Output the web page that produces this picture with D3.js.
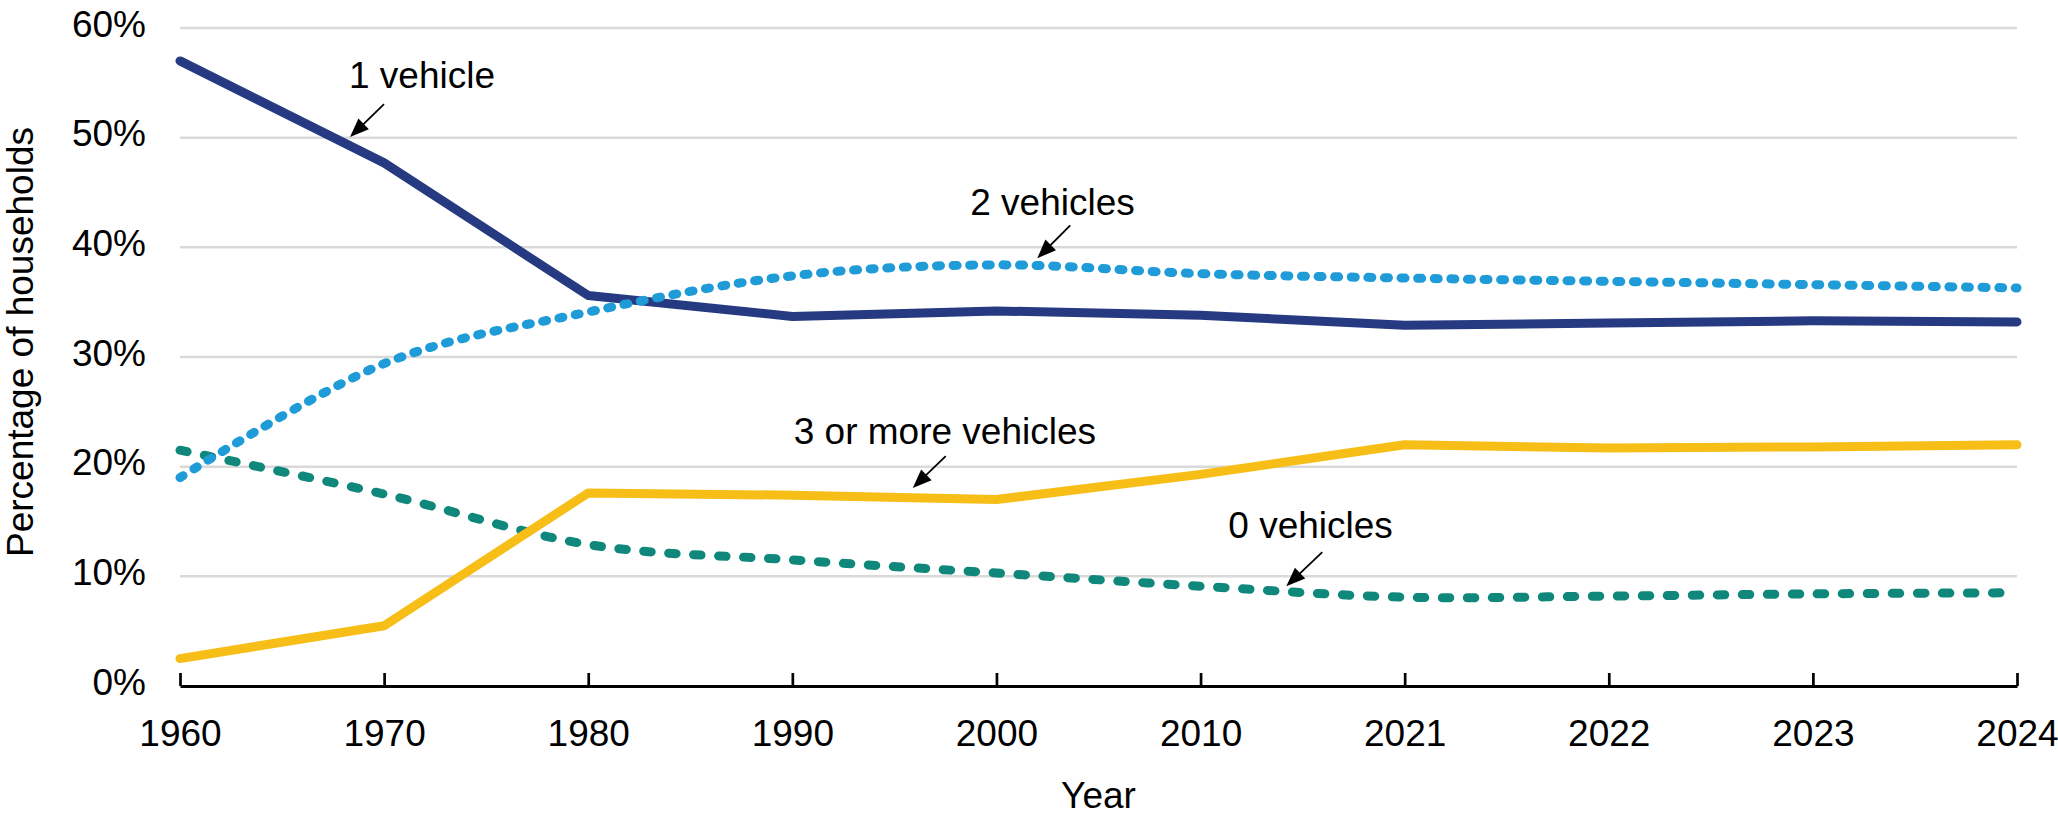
<!DOCTYPE html>
<html>
<head>
<meta charset="utf-8">
<script src="https://cdn.jsdelivr.net/npm/d3@7"></script>
<style>
  html, body { margin: 0; padding: 0; background: #fff; }
  svg { display: block; font-family: "Liberation Sans", Arial, sans-serif; }
</style>
</head>
<body>
<svg id="chart" width="2058" height="825"></svg>
<script>
// ---- Data ----
const years = ["1960", "1970", "1980", "1990", "2000", "2010", "2021", "2022", "2023", "2024"];
const zeroVehicles  = [21.5, 17.5, 12.9, 11.5, 10.3, 9.1, 8.1, 8.2, 8.4, 8.5];
const oneVehicle    = [57.0, 47.7, 35.6, 33.7, 34.2, 33.8, 32.9, 33.1, 33.3, 33.2];
const twoVehicles   = [19.0, 29.4, 34.1, 37.4, 38.4, 37.6, 37.2, 36.9, 36.6, 36.3];
const threePlus     = [2.5, 5.5, 17.6, 17.4, 17.0, 19.3, 22.0, 21.7, 21.8, 22.0];
const yTicks = [0, 10, 20, 30, 40, 50, 60];
const seriesNames = ["0 vehicles", "1 vehicle", "2 vehicles", "3 or more vehicles"];

(function () {
// ---- Layout ----
const plotLeft = 180, plotRight = 2017, plotTop = 28, plotBottom = 686;
const FS = 37;

const svg = d3.select("#chart");
const x = d3.scalePoint().domain(years).range([plotLeft, plotRight]);
const xi = d3.scaleLinear().domain([0, years.length - 1]).range([plotLeft, plotRight]);
const y = d3.scaleLinear().domain([0, 60]).range([plotBottom, plotTop]);

// gridlines
svg.append("g").selectAll("line")
  .data(yTicks.filter(d => d > 0))
  .join("line")
  .attr("x1", plotLeft).attr("x2", plotRight)
  .attr("y1", d => y(d)).attr("y2", d => y(d))
  .attr("stroke", "#d9d9d9").attr("stroke-width", 2.5);

// y axis labels
const yAxis = svg.append("g")
  .attr("transform", `translate(${plotLeft},0)`)
  .call(d3.axisLeft(y).tickValues(yTicks).tickSize(0).tickPadding(34).tickFormat(d => d + "%"));
yAxis.select(".domain").remove();
yAxis.selectAll("text").attr("font-size", FS).attr("fill", "#000").attr("dy", "0.22em")
  .attr("font-family", "Liberation Sans, Arial, sans-serif");

// series
const series = [
  { name: seriesNames[0], values: zeroVehicles, color: "#0f887b", dash: "7.5,17.5", curve: d3.curveCardinal.tension(0) },
  { name: seriesNames[1], values: oneVehicle,   color: "#263a82", dash: null,       curve: d3.curveLinear },
  { name: seriesNames[2], values: twoVehicles,  color: "#1f9bd7", dash: "4,12.6",   curve: d3.curveCardinal.tension(0) },
  { name: seriesNames[3], values: threePlus,    color: "#f6be17", dash: null,       curve: d3.curveLinear }
];

series.forEach(s => {
  const line = d3.line()
    .x((d, i) => x(years[i]))
    .y(d => y(d))
    .curve(s.curve);
  svg.append("path")
    .datum(s.values)
    .attr("d", line)
    .attr("fill", "none")
    .attr("stroke", s.color)
    .attr("stroke-width", 9)
    .attr("stroke-linecap", "round")
    .attr("stroke-linejoin", "round")
    .attr("stroke-dasharray", s.dash);
});

// x axis
const xAxis = svg.append("g")
  .attr("transform", `translate(0,${plotBottom})`)
  .call(d3.axisBottom(x).tickSizeInner(-13).tickSizeOuter(0).tickPadding(34));
xAxis.select(".domain").attr("stroke", "#000").attr("stroke-width", 3);
xAxis.selectAll(".tick line").attr("stroke", "#000").attr("stroke-width", 2.7);
xAxis.selectAll("text").attr("font-size", FS).attr("fill", "#000")
  .attr("font-family", "Liberation Sans, Arial, sans-serif");

// axis titles
svg.append("text")
  .attr("x", (plotLeft + plotRight) / 2).attr("y", 808)
  .attr("text-anchor", "middle").attr("font-size", FS).attr("fill", "#000")
  .text("Year");
svg.append("text")
  .attr("transform", "translate(33,342) rotate(-90)")
  .attr("text-anchor", "middle").attr("font-size", FS).attr("fill", "#000")
  .text("Percentage of households");

// annotations: tip in data coords (category index, value), tail offset, label offset from tip
const annotations = [
  { label: seriesNames[1], ti: 0.833, tv: 50.05, tail: [34, -33], lab: [-1, -49] },
  { label: seriesNames[2], ti: 4.20,  tv: 39.0,  tail: [33, -33], lab: [-67, -43] },
  { label: seriesNames[3], ti: 3.59,  tv: 18.05, tail: [33, -32], lab: [-119, -44] },
  { label: seriesNames[0], ti: 5.42,  tv: 9.1,   tail: [36, -34], lab: [-58, -48] }
];

annotations.forEach(a => {
  const tx = xi(a.ti), ty = y(a.tv);
  const sx = tx + a.tail[0], sy = ty + a.tail[1];
  const dx = tx - sx, dy = ty - sy, len = Math.hypot(dx, dy);
  const ux = dx / len, uy = dy / len;
  const hl = 19, hw = 7.5;
  const bx = tx - ux * hl, by = ty - uy * hl;
  svg.append("line")
    .attr("x1", sx).attr("y1", sy).attr("x2", bx + ux * 2).attr("y2", by + uy * 2)
    .attr("stroke", "#000").attr("stroke-width", 1.8);
  svg.append("path")
    .attr("d", `M${tx},${ty}L${bx - uy * hw},${by + ux * hw}L${bx + uy * hw},${by - ux * hw}Z`)
    .attr("fill", "#000");
  svg.append("text")
    .attr("x", tx + a.lab[0]).attr("y", ty + a.lab[1])
    .attr("font-size", FS).attr("fill", "#000")
    .text(a.label);
});
})();
</script>
</body>
</html>
